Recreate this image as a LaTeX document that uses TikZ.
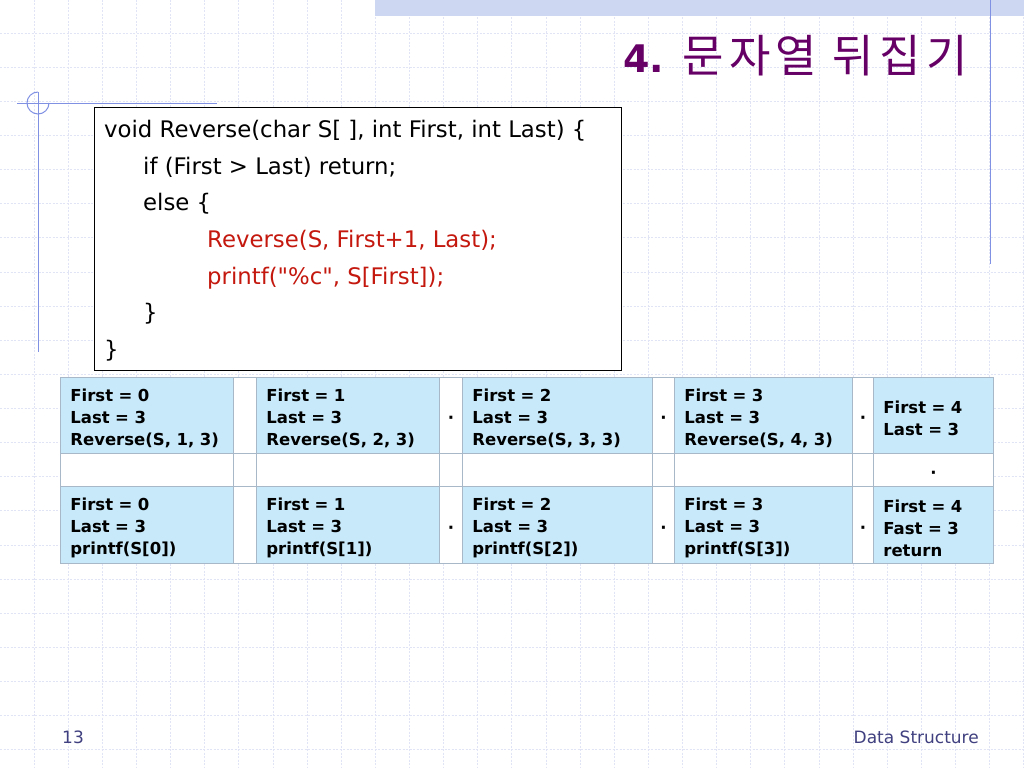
\documentclass[tikz,border=0pt]{standalone}
\usepackage{fontspec}
\setmainfont{DejaVu Sans}
\newfontfamily\hangul{Noto Sans CJK KR}[LetterSpace=12]
\usepackage{tikz}
\usetikzlibrary{positioning}

\definecolor{gridc}{RGB}{225,228,245}
\definecolor{bandc}{RGB}{205,215,242}
\definecolor{decoc}{RGB}{128,145,228}
\definecolor{titlec}{RGB}{102,0,102}
\definecolor{codered}{RGB}{196,24,14}
\definecolor{cellc}{RGB}{199,233,249}
\definecolor{cellline}{RGB}{168,184,200}
\definecolor{footc}{RGB}{64,64,128}

% gerades Anfuehrungszeichen
\newcommand\dquote{\XeTeXglyph\XeTeXcharglyph"22\relax}

\begin{document}
\begin{tikzpicture}[x=1pt,y=-1pt,
  gridline/.style={draw=gridc, line width=0.8pt, dash pattern=on 2pt off 1.5pt},
  deco/.style={draw=decoc, line width=1pt},
  codeline/.style={anchor=base west, inner sep=0pt, font=\fontsize{22.8}{27}\selectfont},
  callcell/.style={anchor=north west, draw=cellline, fill=cellc, line width=0.8pt,
    inner xsep=10pt, inner ysep=0pt, align=left, font=\fontsize{16.5}{22}\selectfont\bfseries,
    execute at begin node={\rule{0pt}{18.5pt}}},
  gapcell/.style={anchor=north west, draw=cellline, fill=white, line width=0.8pt,
    inner sep=0pt, text height=17pt, text depth=0pt, font=\fontsize{16.5}{22}\selectfont\bfseries},
  foot/.style={anchor=base west, inner sep=0pt, text=footc, font=\fontsize{17}{20}\selectfont}]

% Hintergrund
\useasboundingbox (0,0) rectangle (1024,768);
\fill[white] (0,0) rectangle (1024,768);
\foreach \i in {0,...,29} \draw[gridline] ({34+34.13*\i},0) -- ({34+34.13*\i},768);
\foreach \j in {0,...,21} \draw[gridline] (0,{33+34.13*\j}) -- (1024,{33+34.13*\j});
\fill[bandc] (375,0) rectangle (1024,16);
\draw[deco] (990,0) -- (990,264);
\draw[deco] (17,103) -- (217,103);
\draw[deco] (38,92) -- (38,352);
\draw[deco] (38,92) arc[start angle=90, end angle=360, radius=11pt];

\node[anchor=base east, inner sep=0pt, text=titlec] (title) at (968,72)
  {{\fontsize{38}{40}\selectfont\bfseries 4.}\hspace{18pt}{\hangul\fontsize{45}{48}\selectfont 문자열 뒤집기}};

% Quelltext
\node[draw=black, fill=white, line width=0.8pt, anchor=north west, inner sep=0pt,
  minimum width=527pt, minimum height=263pt] (codebox) at (94,107) {};
\node[codeline] (head) at (104,137) {void Reverse(char S[ ], int First, int Last) \{};
\node[codeline] (test) at (143,174) {if (First > Last) return;};
\node[codeline] (else) at (143,210) {else \{};
\node[codeline, text=codered] (recur) at (207,247) {Reverse(S, First+1, Last);};
\node[codeline, text=codered] (print) at (207,284) {printf(\dquote\%c\dquote, S[First]);};
\node[codeline] (close1) at (143,320) {\}};
\node[codeline] (close2) at (104,357) {\}};

% Aufrufe
\foreach \n/\m/\x/\tw in {0/1/60/153, 1/2/256/163, 2/3/462/170, 3/4/674/158} {
  \node[callcell, text width=\tw pt, minimum height=76pt] (call\n) at (\x,377)
    {First = \n\\Last = 3\\Reverse(S, \m, 3)};
  \node[gapcell, minimum width=\tw+20, minimum height=33] (wait\n) at (\x,453) {};
  \node[callcell, text width=\tw pt, minimum height=77pt] (back\n) at (\x,486)
    {First = \n\\Last = 3\\printf(S[\n])};
}
\foreach \k/\x/\w/\d in {1/233/23/{}, 2/439/23/·, 3/652/22/·, 4/852/21/·} {
  \node[gapcell, minimum width=\w, minimum height=76] (gapa\k) at (\x,377) {\d};
  \node[gapcell, minimum width=\w, minimum height=33] (gapb\k) at (\x,453) {};
  \node[gapcell, minimum width=\w, minimum height=77] (gapc\k) at (\x,486) {\d};
}
\node[callcell, text width=100pt, minimum height=76pt] (call4) at (873,377) {First = 4\\Last = 3};
\node[gapcell, minimum width=120, minimum height=33] (wait4) at (873,453) {·};
\node[callcell, text width=100pt, minimum height=77pt] (back4) at (873,486) {First = 4\\Fast = 3\\return};

\node[foot] (page) at (62,743) {13};
\node[foot, anchor=base east] (course) at (979,743) {Data Structure};
\end{tikzpicture}
\end{document}
